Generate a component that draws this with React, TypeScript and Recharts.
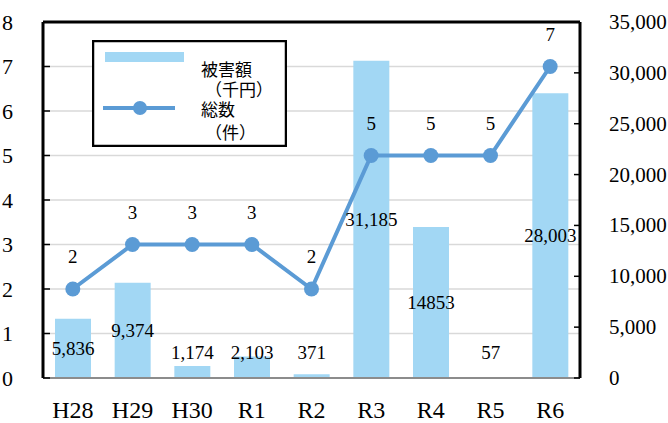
import {
  Bar,
  CartesianGrid,
  ComposedChart,
  LabelList,
  Legend,
  Line,
  ReferenceLine,
  XAxis,
  YAxis,
} from 'recharts'

const categories = ['H28', 'H29', 'H30', 'R1', 'R2', 'R3', 'R4', 'R5', 'R6']
const damage = [5836, 9374, 1174, 2103, 371, 31185, 14853, 57, 28003]
const damageLabels = ['5,836', '9,374', '1,174', '2,103', '371', '31,185', '14853', '57', '28,003']
const counts = [2, 3, 3, 3, 2, 5, 5, 5, 7]
const leftTicks = [0, 1, 2, 3, 4, 5, 6, 7, 8]
const rightTicks = [0, 5000, 10000, 15000, 20000, 25000, 30000, 35000]

const data = categories.map((name, i) => ({
  name,
  damage: damage[i],
  damageLabel: damageLabels[i],
  count: counts[i],
}))

const SERIF = 'Liberation Serif, Noto Sans CJK JP, serif'
const BAR_COLOR = '#a2d7f4'
const LINE_COLOR = '#5b9bd5'

function LeftTick(props: any) {
  const { x, y, payload } = props
  return (
    <g>
      <line x1={43} x2={50} y1={y} y2={y} stroke="#000" strokeWidth={1.5} />
      <text x={x} y={y} textAnchor="end" dominantBaseline="central" fontSize={22} fontFamily={SERIF} fill="#000">
        {payload.value}
      </text>
    </g>
  )
}

function RightTick(props: any) {
  const { x, y, payload } = props
  return (
    <g>
      <line x1={574} x2={580} y1={y} y2={y} stroke="#000" strokeWidth={1.5} />
      <text x={x} y={y} textAnchor="start" dominantBaseline="central" fontSize={21} fontFamily={SERIF} fill="#000">
        {Number(payload.value).toLocaleString('en-US')}
      </text>
    </g>
  )
}

function BottomTick(props: any) {
  const { x, payload } = props
  return (
    <text x={x} y={410} textAnchor="middle" dominantBaseline="central" fontSize={24} fontFamily={SERIF} fill="#000">
      {payload.value}
    </text>
  )
}

function DamageLabel(props: any) {
  const { x, y, width, height, value } = props
  const bottom = Number(y) + Number(height)
  const cy = Math.min(Number(y) + Number(height) / 2, bottom - 26)
  return (
    <text x={Number(x) + Number(width) / 2} y={cy} textAnchor="middle" dominantBaseline="central" fontSize={19} fontFamily={SERIF} fill="#000">
      {value}
    </text>
  )
}

function LegendBox() {
  const txt = { fontSize: 17, fontFamily: SERIF, fill: '#000' }
  return (
    <svg width={195} height={107} style={{ display: 'block' }}>
      <rect x={1} y={1} width={193} height={105} fill="#fff" stroke="#000" strokeWidth={2.5} />
      <rect x={13} y={12} width={79} height={10} fill={BAR_COLOR} />
      <text x={109} y={30} dominantBaseline="central" {...txt}>被害額</text>
      <text x={113} y={50} dominantBaseline="central" {...txt}>（千円）</text>
      <line x1={11} x2={83} y1={68} y2={68} stroke={LINE_COLOR} strokeWidth={4} />
      <circle cx={48} cy={68} r={7} fill={LINE_COLOR} />
      <text x={109} y={70} dominantBaseline="central" {...txt}>総数</text>
      <text x={113} y={93} dominantBaseline="central" {...txt}>（件）</text>
    </svg>
  )
}

export default function App() {
  return (
    <div style={{ position: 'absolute', left: 0, top: 0, width: 668, height: 423, background: '#fff' }}>
      <ComposedChart
        width={668}
        height={423}
        data={data}
        barSize={36}
        margin={{ top: 22, right: 0, bottom: 0, left: 0 }}
      >
        <CartesianGrid yAxisId="left" vertical={false} stroke="#d9d9d9" strokeWidth={1.5} />
        <XAxis
          dataKey="name"
          height={45}
          axisLine={{ stroke: '#8c8c8c', strokeWidth: 2 }}
          tickLine={false}
          tick={<BottomTick />}
        />
        <YAxis
          yAxisId="left"
          orientation="left"
          width={43}
          domain={[0, 8]}
          ticks={leftTicks}
          axisLine={{ stroke: '#000', strokeWidth: 3 }}
          tickLine={false}
          tickMargin={24}
          tick={<LeftTick />}
          interval={0}
        />
        <YAxis
          yAxisId="right"
          orientation="right"
          width={88}
          domain={[0, 35000]}
          ticks={rightTicks}
          axisLine={{ stroke: '#000', strokeWidth: 3 }}
          tickLine={false}
          tickMargin={23}
          tick={<RightTick />}
          interval={0}
        />
        <ReferenceLine yAxisId="left" y={8} stroke="#000" strokeWidth={3} />
        <Legend
          layout="vertical"
          align="center"
          verticalAlign="middle"
          content={() => <LegendBox />}
          wrapperStyle={{ position: 'absolute', left: 92, top: 40, width: 195, height: 107 }}
        />
        <Bar yAxisId="right" dataKey="damage" fill={BAR_COLOR} isAnimationActive={false}>
          <LabelList dataKey="damageLabel" content={<DamageLabel />} />
        </Bar>
        <Line
          yAxisId="left"
          dataKey="count"
          type="linear"
          stroke={LINE_COLOR}
          strokeWidth={4}
          dot={{ r: 7.5, fill: LINE_COLOR, stroke: LINE_COLOR, strokeWidth: 0 }}
          isAnimationActive={false}
        >
          <LabelList dataKey="count" position="top" offset={26} fontSize={19} fontFamily={SERIF} fill="#000" />
        </Line>
      </ComposedChart>
    </div>
  )
}
